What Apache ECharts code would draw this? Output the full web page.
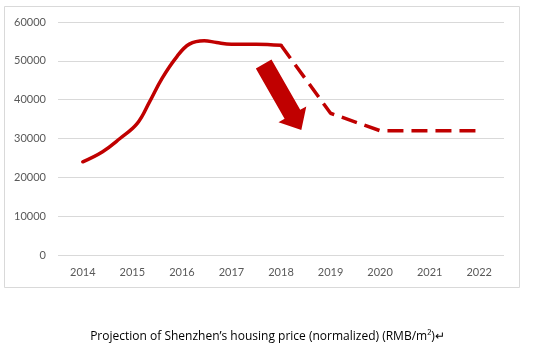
<!DOCTYPE html>
<html>
<head>
<meta charset="utf-8">
<script src="https://cdn.jsdelivr.net/npm/echarts@6/dist/echarts.min.js"></script>
<style>
html,body{margin:0;padding:0;background:#fff;}
#chart{width:535px;height:351px;}
</style>
</head>
<body>
<div id="chart"></div>
<script>
// ---- data ----
const categories = ['2014','2015','2016','2017','2018','2019','2020','2021','2022'];
const yTicks = [0, 10000, 20000, 30000, 40000, 50000, 60000];
// historical (solid) curve, sampled along the drawn line
const solidYears  = [2014, 2014.4, 2014.75, 2015.1, 2015.35, 2015.6, 2015.9, 2016.15, 2016.45, 2016.7, 2017, 2017.5, 2018];
const solidValues = [24000, 26600, 30000, 33900, 39500, 45500, 51100, 54300, 55200, 54700, 54300, 54300, 54000];
// projection (dashed)
const dashYears  = [2018, 2019, 2020, 2021, 2022];
const dashValues = [54000, 36500, 32000, 32000, 32000];
// down arrow annotation: [fromYear, fromValue, toYear, toValue]
const arrowFrom = [2017.65, 49200];
const arrowTo   = [2018.41, 32200];
const caption = 'Projection of Shenzhen\u2019s housing price (normalized) (RMB/m\u00B2)\u21B5';

const RED = '#C00000';
const toPairs = (xs, ys) => xs.map((x, i) => [x, ys[i]]);

const chart = echarts.init(document.getElementById('chart'), null, {renderer: 'canvas'});
chart.setOption({
  backgroundColor: '#fff',
  animation: false,
  textStyle: {fontFamily: 'Lato, "Open Sans", sans-serif'},
  graphic: [
    {type: 'rect', left: 4, top: 6, z: -10, shape: {width: 515, height: 281},
     style: {fill: '#fff', stroke: '#D9D9D9', lineWidth: 1}},
    {type: 'text', left: 'center', top: 331,
     style: {text: caption, fill: '#000', font: '12px "Open Sans", Lato, sans-serif'}}
  ],
  grid: {left: 58, right: 31, top: 22, bottom: 96},
  xAxis: [
    {type: 'category', data: categories, boundaryGap: true,
     axisLine: {show: false}, axisTick: {show: false},
     axisLabel: {color: '#595959', fontSize: 11, margin: 12}},
    {type: 'value', min: 2013.5, max: 2022.5, show: false}
  ],
  yAxis: {
    type: 'value', min: yTicks[0], max: yTicks[yTicks.length - 1], interval: yTicks[1] - yTicks[0],
    axisLine: {show: false}, axisTick: {show: false},
    axisLabel: {color: '#595959', fontSize: 11, margin: 12, formatter: v => String(v)},
    splitLine: {lineStyle: {color: '#D9D9D9', width: 1}}
  },
  series: [
    {type: 'line', xAxisIndex: 1, data: toPairs(solidYears, solidValues),
     smooth: 0.4, showSymbol: false,
     lineStyle: {color: RED, width: 3.5, cap: 'round', join: 'round'}},
    {type: 'line', xAxisIndex: 1, data: toPairs(dashYears, dashValues),
     showSymbol: false,
     lineStyle: {color: RED, width: 3.5, type: [16, 8], join: 'round'}},
    {type: 'custom', xAxisIndex: 1, data: [[arrowFrom[0], arrowFrom[1], arrowTo[0], arrowTo[1]]],
     encode: {x: [0, 2], y: [1, 3]},
     renderItem: function (params, api) {
       const p0 = api.coord([api.value(0), api.value(1)]);
       const p1 = api.coord([api.value(2), api.value(3)]);
       const dx = p1[0] - p0[0], dy = p1[1] - p0[1];
       const len = Math.sqrt(dx * dx + dy * dy);
       const ux = dx / len, uy = dy / len, nx = -uy, ny = ux;
       const sw = 9, hw = 16, hl = 18;
       const b = [p1[0] - ux * hl, p1[1] - uy * hl];
       const pts = [
         [p0[0] + nx * sw, p0[1] + ny * sw],
         [b[0] + nx * sw, b[1] + ny * sw],
         [b[0] + nx * hw, b[1] + ny * hw],
         p1,
         [b[0] - nx * hw, b[1] - ny * hw],
         [b[0] - nx * sw, b[1] - ny * sw],
         [p0[0] - nx * sw, p0[1] - ny * sw]
       ];
       return {type: 'polygon', shape: {points: pts}, style: {fill: RED}};
     }}
  ]
});
</script>
</body>
</html>
